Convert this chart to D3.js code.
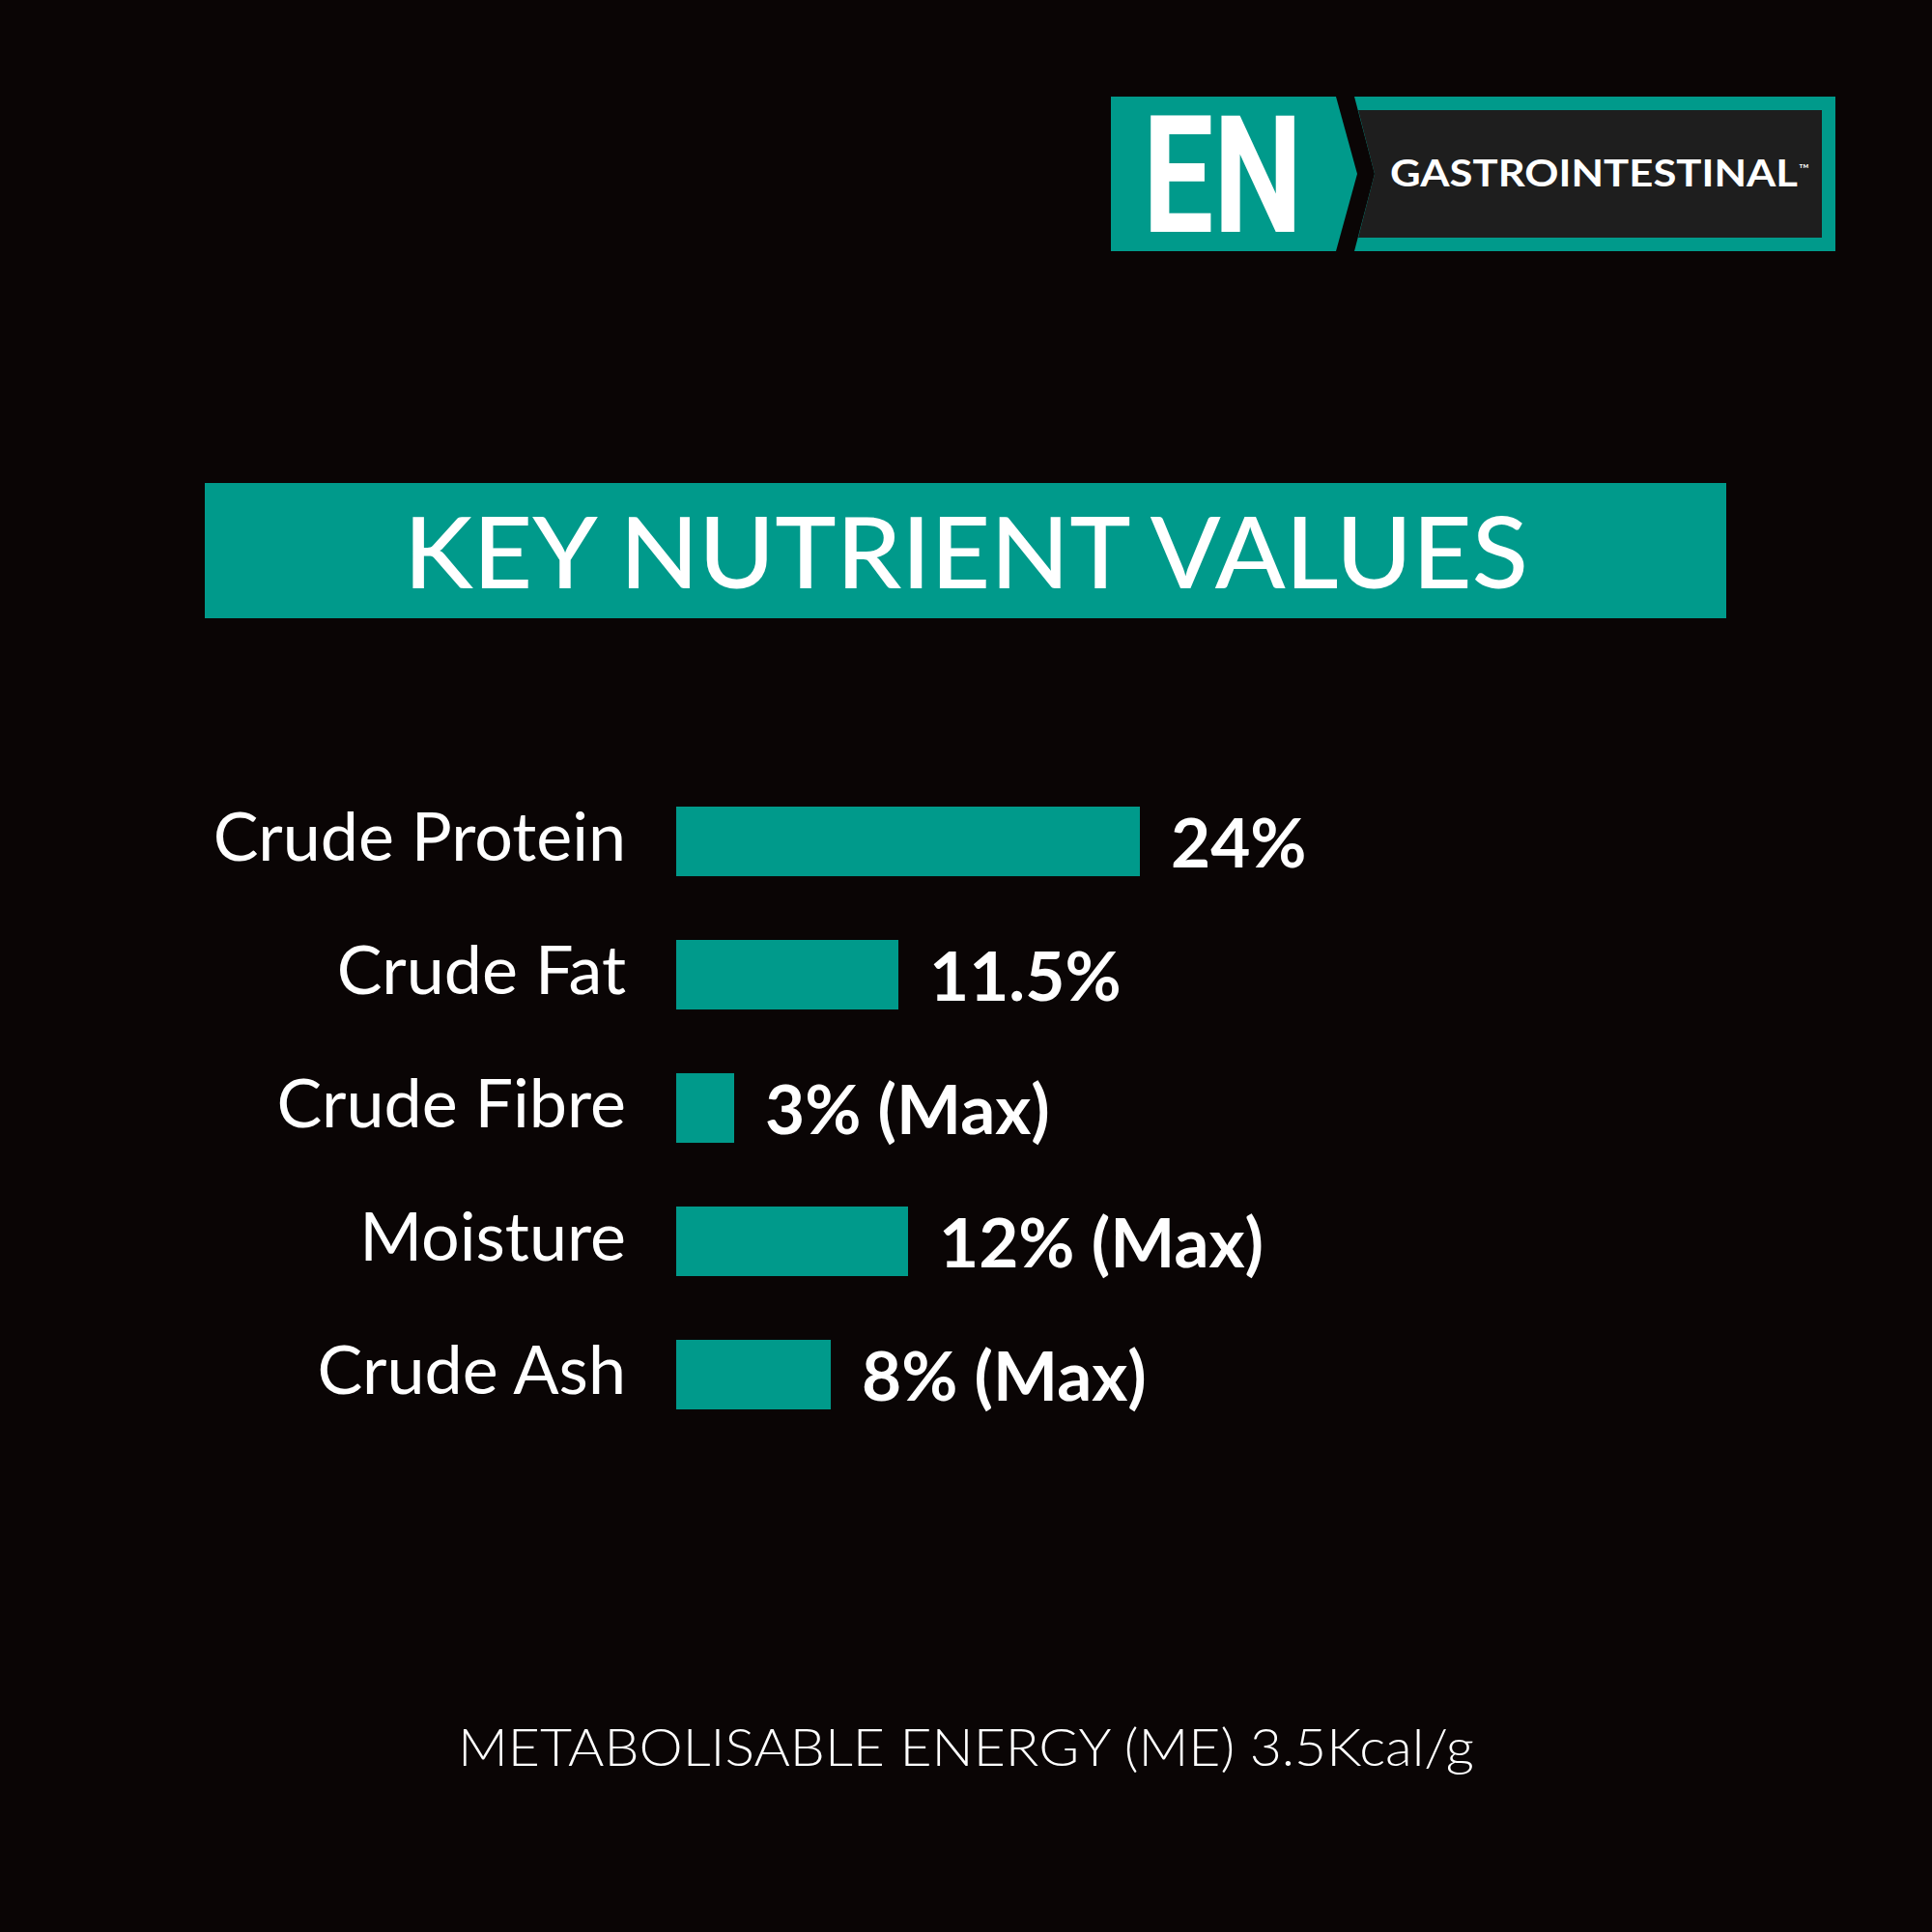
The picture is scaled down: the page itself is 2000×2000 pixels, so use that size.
<!DOCTYPE html>
<html>
<head>
<meta charset="utf-8">
<script src="https://cdnjs.cloudflare.com/ajax/libs/d3/7.8.5/d3.min.js"></script>
<style>
  html, body { margin: 0; padding: 0; background: #0a0505; }
  svg { display: block; }
</style>
</head>
<body>
<svg class="chart"></svg>
<script>
// nutrient data
const nutrients = ["Crude Protein", "Crude Fat", "Crude Fibre", "Moisture", "Crude Ash"];
const percent = [24, 11.5, 3, 12, 8];
const valueLabels = ["24%", "11.5%", "3% (Max)", "12% (Max)", "8% (Max)"];

const title = "KEY NUTRIENT VALUES";
const footer = "METABOLISABLE ENERGY (ME) 3.5Kcal/g";
const brand = "EN";
const brandName = "GASTROINTESTINAL";

const width = 2000;
const height = 2000;
const teal = "#009a8b";
const font = "Lato, 'Open Sans', sans-serif";

const svg = d3.select(".chart")
    .attr("width", width)
    .attr("height", height);

svg.append("rect")
    .attr("width", width)
    .attr("height", height)
    .attr("fill", "#0a0505");

// logo block, top right
const logo = svg.append("g");

logo.append("polygon") // teal "EN" part with arrow tip
    .attr("points", "1150,100 1383,100 1405,180 1383,260 1150,260")
    .attr("fill", teal);

logo.append("polygon") // teal frame of the name box
    .attr("points", "1402,100 1900,100 1900,260 1402,260 1423,180")
    .attr("fill", teal);

logo.append("polygon") // dark inside
    .attr("points", "1406,114 1886,114 1886,246 1406,246 1423,180")
    .attr("fill", "#1e1e1e");

logo.append("text")
    .text(brand)
    .attr("x", 1183)
    .attr("y", 240)
    .attr("font-family", "Roboto, sans-serif")
    .attr("font-weight", 700)
    .attr("font-size", 168)
    .attr("textLength", 165)
    .attr("lengthAdjust", "spacingAndGlyphs")
    .attr("fill", "white");

logo.append("text")
    .text(brandName)
    .attr("x", 1439)
    .attr("y", 193)
    .attr("font-family", font)
    .attr("font-weight", 700)
    .attr("font-size", 39)
    .attr("textLength", 422)
    .attr("lengthAdjust", "spacingAndGlyphs")
    .attr("fill", "white");

logo.append("text")
    .text("™")
    .attr("x", 1862)
    .attr("y", 180)
    .attr("font-family", font)
    .attr("font-size", 14)
    .attr("fill", "white");

// title banner
svg.append("rect")
    .attr("x", 212)
    .attr("y", 500)
    .attr("width", 1575)
    .attr("height", 140)
    .attr("fill", teal);

svg.append("text")
    .text(title)
    .attr("x", 1000)
    .attr("y", 609)
    .attr("text-anchor", "middle")
    .attr("font-family", font)
    .attr("font-weight", 500)
    .attr("font-size", 103)
    .attr("textLength", 1164)
    .attr("lengthAdjust", "spacingAndGlyphs")
    .attr("fill", "white");

// scales: 20px per percent
const xScale = d3.scaleLinear()
    .domain([0, 24])
    .range([700, 1180]);

const yScale = d3.scaleBand()
    .domain(nutrients)
    .range([835, 1459])
    .paddingInner(0.478)
    .paddingOuter(0);

const rows = svg.selectAll(".row")
    .data(nutrients)
    .enter()
    .append("g")
    .attr("class", "row");

rows.append("rect")
    .attr("x", xScale(0))
    .attr("y", d => yScale(d))
    .attr("width", (d, i) => xScale(percent[i]) - xScale(0))
    .attr("height", yScale.bandwidth())
    .attr("fill", teal);

rows.append("text") // category names, right aligned left of the bars
    .text(d => d)
    .attr("x", 648)
    .attr("y", d => yScale(d) + yScale.bandwidth() - 16)
    .attr("text-anchor", "end")
    .attr("font-family", font)
    .attr("font-weight", 400)
    .attr("font-size", 70)
    .attr("fill", "white");

rows.append("text") // values after the bars
    .text((d, i) => valueLabels[i])
    .attr("x", (d, i) => xScale(percent[i]) + 32)
    .attr("y", d => yScale(d) + yScale.bandwidth() - 9)
    .attr("font-family", font)
    .attr("font-weight", 700)
    .attr("font-size", 71)
    .attr("fill", "white");

// footer line
svg.append("text")
    .text(footer)
    .attr("x", 1000)
    .attr("y", 1828)
    .attr("text-anchor", "middle")
    .attr("font-family", font)
    .attr("font-weight", 300)
    .attr("font-size", 54)
    .attr("textLength", 1052)
    .attr("lengthAdjust", "spacingAndGlyphs")
    .attr("fill", "white");
</script>
</body>
</html>
